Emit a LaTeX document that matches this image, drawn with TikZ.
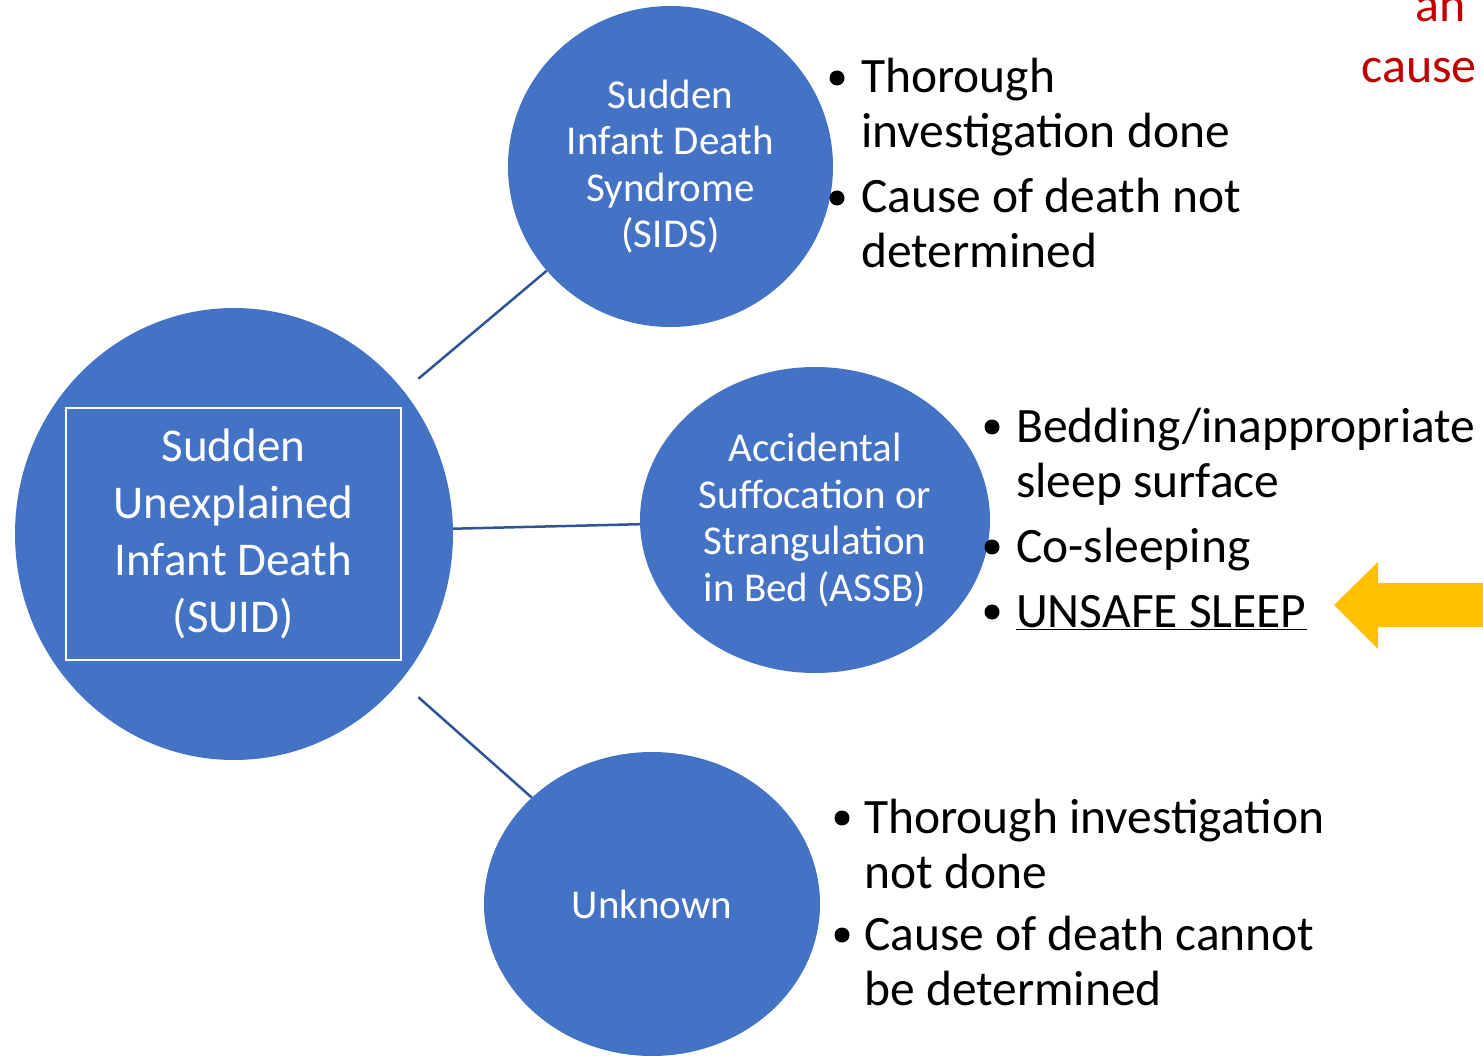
\documentclass[tikz,border=0pt]{standalone}
\usepackage{fontspec}
\setmainfont{Carlito}
\usetikzlibrary{shapes.geometric}
\definecolor{circblue}{HTML}{4472C4}
\definecolor{linkblue}{HTML}{2F5597}
\definecolor{darkred}{HTML}{C00000}
\definecolor{arrowgold}{HTML}{FFC000}
\begin{document}
\begin{tikzpicture}[x=1pt,y=-1pt,
  bubble/.style={ellipse, fill=circblue, text=white, inner sep=0pt, align=center,
    font=\fontsize{41}{46.5}\selectfont},
  link/.style={draw=linkblue, line width=2.5pt},
  dot/.style={circle, fill=black, minimum size=15pt, inner sep=0pt},
  item/.style={anchor=base west, inner sep=0pt, font=\fontsize{49.5}{55}\selectfont},
  redtext/.style={anchor=base east, inner sep=0pt, text=darkred, font=\fontsize{50}{55}\selectfont},
]
\useasboundingbox (0,0) rectangle (1483,1056);

% bubbles
\node[bubble, minimum width=438pt, minimum height=452pt] (suid) at (234,534) {};
\node[draw=white, line width=2pt, minimum width=335pt, minimum height=252pt, inner sep=0pt,
      align=center, text=white, font=\fontsize{47}{57}\selectfont] (suidbox) at (233.5,533.5)
      {Sudden\\Unexplained\\Infant Death\\(SUID)};
\node[bubble, minimum width=325pt, minimum height=321pt] (sids) at (670.5,166.5)
      {Sudden\\Infant Death\\Syndrome\\(SIDS)};
\node[bubble, minimum width=350pt, minimum height=306pt] (assb) at (815,520)
      {Accidental\\Suffocation or\\Strangulation\\in Bed (ASSB)};
\node[bubble, minimum width=336pt, minimum height=304pt] (unk) at (652,904) {Unknown};

% connectors
\draw[link, shorten <=19pt] (suid) -- (sids);
\draw[link] (suid) -- (assb);
\draw[link, shorten <=24pt] (suid) -- (unk);

% SIDS bullets
\node[dot] (b1) at (837,78) {};
\node[item] (t1a) at (861,93) {Thorough};
\node[item] (t1b) at (861,148) {investigation done};
\node[dot] (b2) at (837,198) {};
\node[item] (t2a) at (861,213) {Cause of death not};
\node[item] (t2b) at (861,268) {determined};

% ASSB bullets
\node[dot] (b3) at (992,427) {};
\node[item] (t3a) at (1016,442) {Bedding/inappropriate};
\node[item] (t3b) at (1016,497) {sleep surface};
\node[dot] (b4) at (992,547) {};
\node[item] (t4) at (1016,562) {Co-sleeping};
\node[dot] (b5) at (992,612) {};
\node[item] (t5) at (1016,627) {\underline{UNSAFE SLEEP}};

% Unknown bullets
\node[dot] (b6) at (842,818) {};
\node[item] (t6a) at (864,833) {Thorough investigation};
\node[item] (t6b) at (864,888) {not done};
\node[dot] (b7) at (842,935) {};
\node[item] (t7a) at (864,950) {Cause of death cannot};
\node[item] (t7b) at (864,1005) {be determined};

% red partial text
\node[redtext] (r1) at (1466,22) {an};
\node[redtext] (r2) at (1477,83) {cause};

% yellow arrow
\fill[arrowgold] (1334,605) -- (1378,562) -- (1378,583) -- (1490,583) -- (1490,627)
  -- (1378,627) -- (1378,649) -- cycle;
\end{tikzpicture}
\end{document}
